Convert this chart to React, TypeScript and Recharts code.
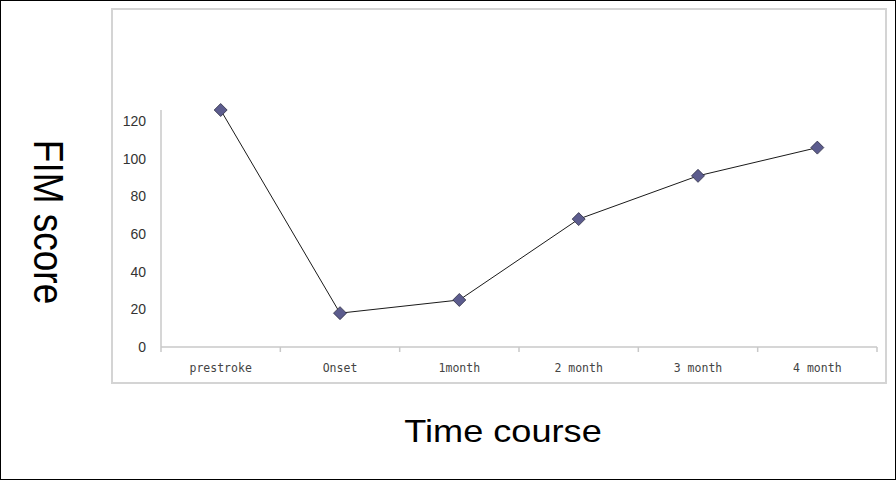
import React from 'react';
import { LineChart, Line, XAxis, YAxis } from 'recharts';

// Functional Independence Measure over the recovery period
const timePoints = ['prestroke', 'Onset', '1month', '2 month', '3 month', '4 month'];
const fimScores = [126, 18, 25, 68, 91, 106];
const scoreTicks = [0, 20, 40, 60, 80, 100, 120];
const boundaryTicks = [0, 1, 2, 3, 4, 5, 6];

const data = timePoints.map((name, i) => ({ name, pos: i + 0.5, fim: fimScores[i] }));

const AXIS_GRAY = '#c8c8c8';

const Diamond = (props: any) => {
  const { cx, cy, index } = props;
  if (cx == null || cy == null) return null;
  const r = 6.5;
  return (
    <polygon
      key={`dot-${index}`}
      points={`${cx},${cy - r} ${cx + r},${cy} ${cx},${cy + r} ${cx - r},${cy}`}
      fill="#5c5c8e"
      stroke="#2e2e44"
      strokeWidth={0.8}
    />
  );
};

const App: React.FC = () => {
  return (
    <div
      style={{
        position: 'absolute',
        left: 0,
        top: 0,
        width: 896,
        height: 480,
        boxSizing: 'border-box',
        border: '1px solid #000',
        background: '#fff',
        fontFamily: '"Liberation Sans", Arial, sans-serif',
      }}
    >
      {/* plot frame */}
      <div
        style={{
          position: 'absolute',
          left: 110,
          top: 7,
          width: 776,
          height: 376,
          boxSizing: 'border-box',
          border: '2px solid #d4d4d4',
        }}
      />

      <div style={{ position: 'absolute', left: -1, top: -1 }}>
        <LineChart
          width={896}
          height={480}
          data={data}
          margin={{ top: 110, right: 19, left: 101, bottom: 103 }}
        >
          {/* category boundaries: axis line plus short ticks between labels */}
          <XAxis
            xAxisId="bounds"
            type="number"
            dataKey="pos"
            domain={[0, 6]}
            ticks={boundaryTicks}
            tickFormatter={() => ''}
            height={1}
            axisLine={{ stroke: AXIS_GRAY, strokeWidth: 1.5 }}
            tickLine={{ stroke: AXIS_GRAY, strokeWidth: 1.5 }}
            tickSize={5}
            interval={0}
          />
          <XAxis
            xAxisId="labels"
            type="number"
            dataKey="pos"
            domain={[0, 6]}
            ticks={data.map((d) => d.pos)}
            tickFormatter={(v: number) => timePoints[Math.floor(v)]}
            axisLine={false}
            tickLine={false}
            tickSize={0}
            tickMargin={16}
            height={29}
            interval={0}
            tick={{ fill: '#444', fontSize: 11.5, fontFamily: '"DejaVu Sans Mono", monospace' }}
          />
          <YAxis
            type="number"
            domain={[0, 126]}
            ticks={scoreTicks}
            width={60}
            axisLine={{ stroke: AXIS_GRAY, strokeWidth: 1.5 }}
            tickLine={false}
            tickSize={0}
            tickMargin={15}
            interval={0}
            tick={{ fill: '#333', fontSize: 14, fontFamily: '"Liberation Sans", Arial, sans-serif' }}
          />
          <Line
            xAxisId="labels"
            type="linear"
            dataKey="fim"
            stroke="#1a1a1a"
            strokeWidth={1}
            dot={Diamond}
            activeDot={false}
            isAnimationActive={false}
          />
        </LineChart>
      </div>

      {/* axis titles */}
      <svg
        width={896}
        height={480}
        style={{ position: 'absolute', left: -1, top: -1, pointerEvents: 'none' }}
      >
        <text
          transform="translate(34 222) scale(1.13 1) rotate(90)"
          textAnchor="middle"
          fontSize={37}
          fill="#000"
          fontFamily='"Liberation Sans", Arial, sans-serif'
        >
          FIM score
        </text>
        <text
          transform="translate(503 442) scale(1.13 1)"
          textAnchor="middle"
          fontSize={32}
          fill="#000"
          fontFamily='"Liberation Sans", Arial, sans-serif'
        >
          Time course
        </text>
      </svg>
    </div>
  );
};

export default App;
